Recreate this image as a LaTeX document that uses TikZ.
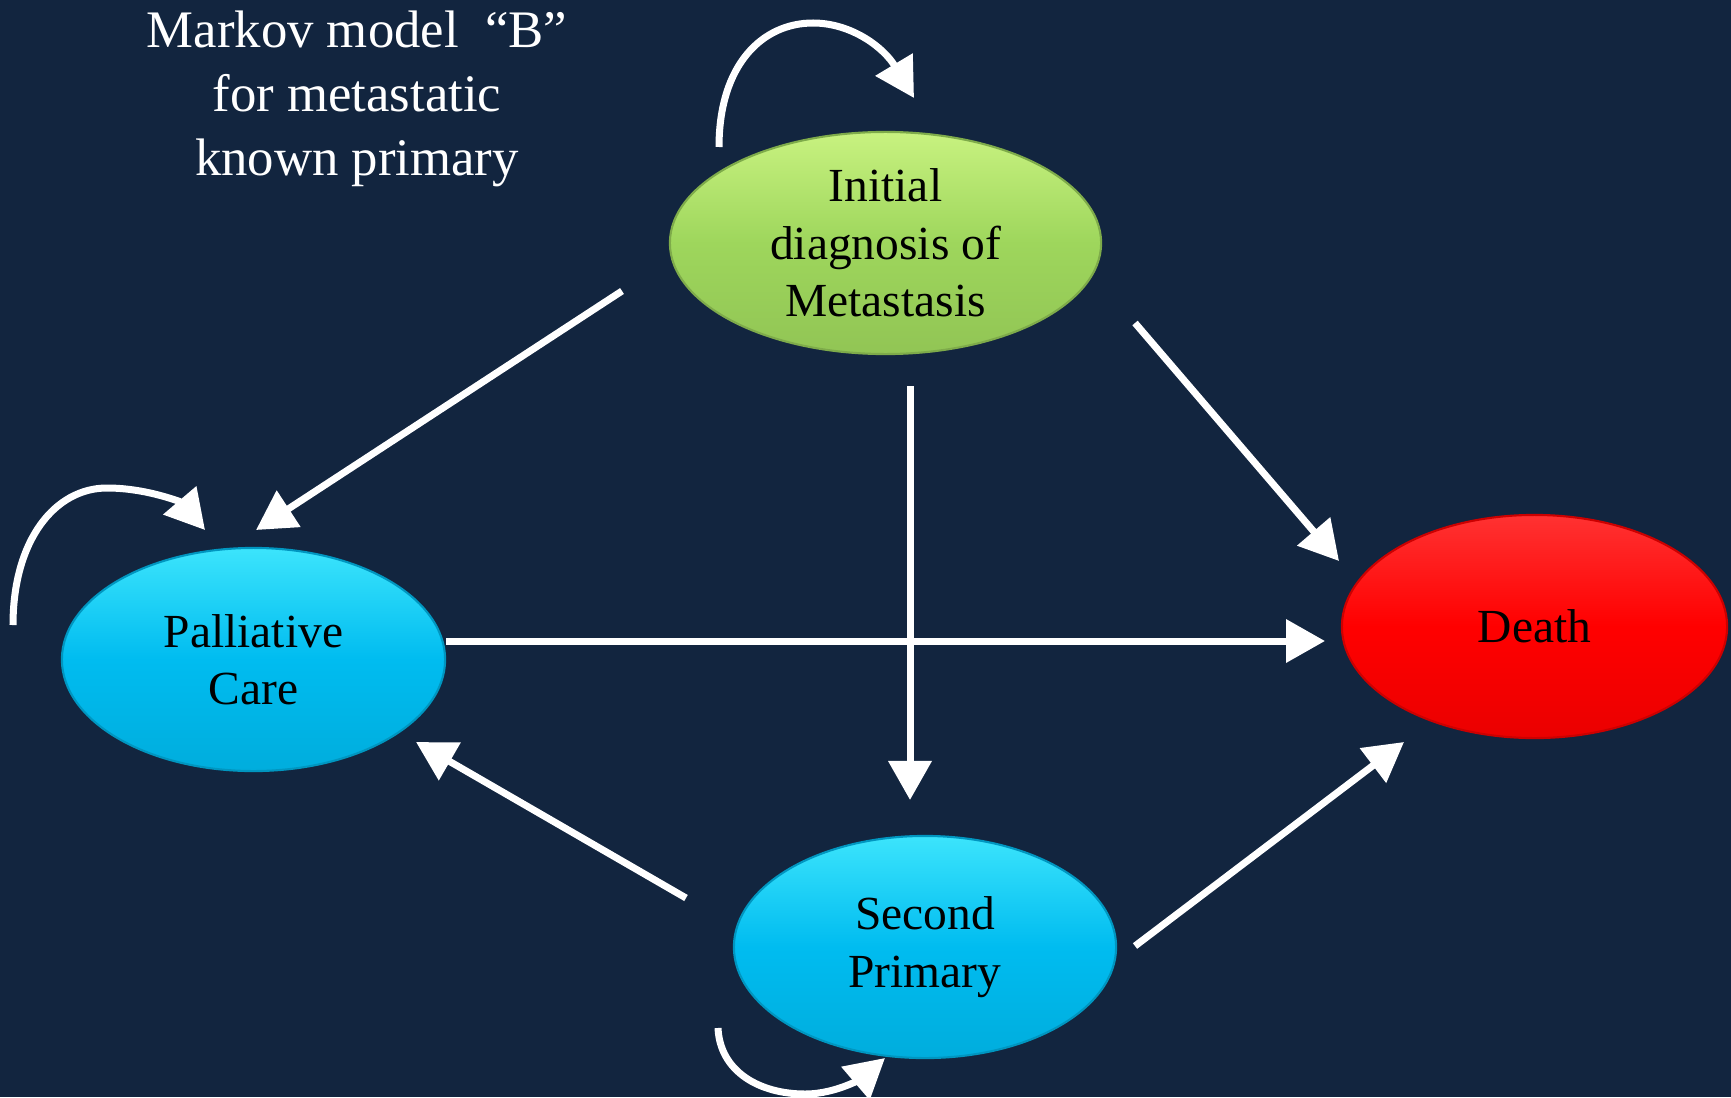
\documentclass[tikz,border=0pt]{standalone}
\usepackage{fontspec}
\setmainfont{Liberation Serif}
\usetikzlibrary{shapes.geometric,arrows.meta,calc}
\definecolor{bgnavy}{RGB}{18,37,63}
\definecolor{leaf}{RGB}{158,214,92}
\definecolor{leaflight}{RGB}{200,242,128}
\definecolor{sky}{RGB}{0,188,240}
\definecolor{skylight}{RGB}{60,228,252}
\definecolor{blood}{RGB}{255,0,0}
\definecolor{bloodlight}{RGB}{255,50,50}
\begin{document}
\begin{tikzpicture}[x=0.01cm,y=-0.01cm,
  state/.style={ellipse, inner sep=0pt, align=center, text=black,
    font=\fontsize{13.5}{16.3}\selectfont, line width=0.6pt},
  greenstate/.style={state, top color=leaflight, bottom color=leaf!92!black, middle color=leaf, draw=leaf!80!black},
  bluestate/.style={state, top color=skylight, bottom color=sky!92!black, middle color=sky, draw=sky!80!black},
  redstate/.style={state, top color=bloodlight, bottom color=blood!92!black, middle color=blood, draw=blood!80!black},
  flow/.style={draw=white, line width=0.07cm, -{Triangle[length=0.39cm,width=0.42cm]}},
]
% backdrop
\fill[bgnavy] (0,0) rectangle (1731,1097);
\useasboundingbox (0,0) rectangle (1731,1097);

% heading
\node[text=white, align=center, font=\fontsize{15}{18.2}\selectfont] (title) at (357,99)
  {Markov model~~“B”\\for metastatic\\known primary};

% states
\node[greenstate, minimum width=4.31cm, minimum height=2.22cm] (init) at (885.5,243)
  {Initial\\diagnosis of\\Metastasis};
\node[bluestate, minimum width=3.83cm, minimum height=2.23cm] (pal) at (253.5,659.5)
  {Palliative\\Care};
\node[redstate, minimum width=3.85cm, minimum height=2.23cm] (death) at (1534.5,626.5)
  {Death};
\node[bluestate, minimum width=3.82cm, minimum height=2.22cm] (sec) at (925,947)
  {Second\\Primary};

% connector ends, placed around the states
\coordinate (ipA) at ($(init.center)+(-263.5,48)$);
\coordinate (ipB) at ($(pal.center)+(2.5,-129.5)$);
\coordinate (idA) at ($(init.center)+(249.5,80)$);
\coordinate (idB) at ($(death.center)+(-195.5,-65.5)$);
\coordinate (isA) at ($(init.center)+(24.5,143)$);
\coordinate (isB) at ($(sec.center)+(-15,-147)$);
\coordinate (pdA) at ($(pal.center)+(192.5,-18.5)$);
\coordinate (pdB) at ($(death.center)+(-209.5,14.5)$);
\coordinate (spA) at ($(sec.center)+(-239,-49)$);
\coordinate (spB) at ($(pal.center)+(162.5,82.5)$);
\coordinate (sdA) at ($(sec.center)+(210,-1)$);
\coordinate (sdB) at ($(death.center)+(-130.5,115.5)$);

% transitions
\draw[flow] (ipA) -- (ipB);
\draw[flow] (idA) -- (idB);
\draw[flow] (isA) -- (isB);
\draw[flow] (pdA) -- (pdB);
\draw[flow] (spA) -- (spB);
\draw[flow] (sdA) -- (sdB);

% self loops
\coordinate (iLoopA) at ($(init.center)+(-166.5,-96)$);
\coordinate (iLoopB) at ($(init.center)+(28.5,-145)$);
\draw[flow] (iLoopA) .. controls (719,65) and (762,23) .. (813,23)
  .. controls (852,23) and (884,48) .. (iLoopB);

\coordinate (pLoopA) at ($(pal.center)+(-240.5,-34.5)$);
\coordinate (pLoopB) at ($(pal.center)+(-48.5,-129.5)$);
\draw[flow] (pLoopA) .. controls (13,540) and (55,488) .. (107,488)
  .. controls (148,488) and (182,503) .. (pLoopB);

\coordinate (sLoopA) at ($(sec.center)+(-207,81)$);
\coordinate (sLoopB) at ($(sec.center)+(-40,111)$);
\draw[flow] (sLoopA) .. controls (720,1072) and (760,1094) .. (805,1094)
  .. controls (838,1094) and (864,1076) .. (sLoopB);
\end{tikzpicture}
\end{document}
